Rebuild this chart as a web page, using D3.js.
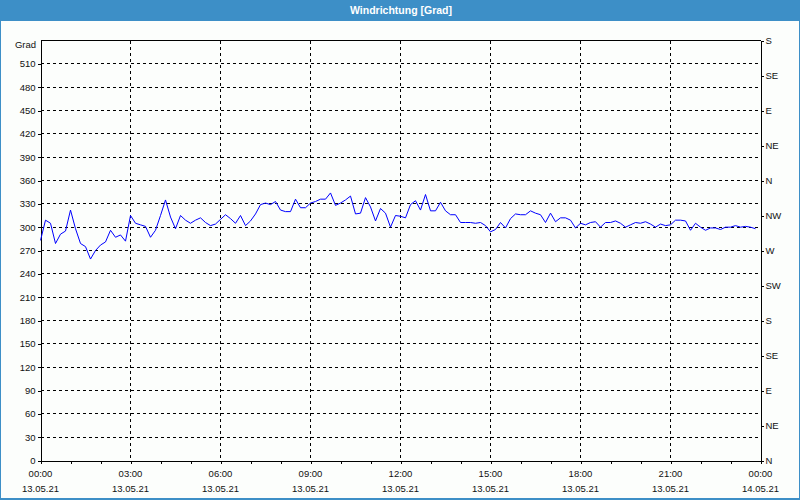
<!DOCTYPE html>
<html><head><meta charset="utf-8">
<script src="https://cdn.jsdelivr.net/npm/d3@7"></script>
<style>
html,body{margin:0;padding:0;background:#fcfefc;}
svg{display:block;}
text{font-family:"Liberation Sans",Arial,sans-serif;}
</style></head>
<body>
<svg id="c" width="800" height="500"></svg>
<script>
const title = "Windrichtung [Grad]";
const yUnit = "Grad";
const startTime = "2021-05-13T00:00:00";
const endTime = "2021-05-14T00:00:00";
const stepMinutes = 10;
const yTicks = [0,30,60,90,120,150,180,210,240,270,300,330,360,390,420,450,480,510];
const compassTicks = [0,45,90,135,180,225,270,315,360,405,450,495,540];
const compassLabels = ["N","NE","E","SE","S","SW","W","NW","N","NE","E","SE","S"];
const windDir = [
283,309,305,279,291,295,322,298,279,275,259,270,277,281,296,287,290,282,315,305,
303,301,287,296,315,335,313,298,315,309,305,309,312,306,302,304,310,316,311,305,
315,302,308,317,329,331,329,333,322,320,320,336,325,325,331,333,336,336,344,328,
331,335,340,317,318,338,326,308,324,318,300,315,314,312,329,334,322,342,321,321,
332,321,316,316,306,306,306,305,306,302,294,297,306,299,311,317,316,316,321,318,
316,306,318,307,312,312,309,299,305,303,306,307,300,306,306,308,305,300,303,306,
305,307,304,300,304,302,303,309,309,308,296,305,300,296,299,299,297,300,300,302,
300,301,300,298];

const svg = d3.select("#c");
const W = 800, H = 500;
const L = 40, R = 760, T = 40, B = 460;

// frame
svg.append("rect").attr("x",0).attr("y",0).attr("width",W).attr("height",H).attr("fill","#fcfefc");
svg.append("rect").attr("x",0.5).attr("y",0.5).attr("width",W-1).attr("height",H-1.5)
  .attr("fill","none").attr("stroke","#3d8fc7").attr("stroke-width",1).attr("shape-rendering","crispEdges");
svg.append("line").attr("x1",0).attr("x2",W).attr("y1",498.5).attr("y2",498.5).attr("stroke","#3d8fc7").attr("shape-rendering","crispEdges");
svg.append("rect").attr("x",0).attr("y",0).attr("width",W).attr("height",21).attr("fill","#3d8fc7");
svg.append("text").attr("x",401).attr("y",14).attr("text-anchor","middle")
  .attr("fill","#ffffff").attr("font-size","10.5px").attr("font-weight","bold").text(title);

const parse = d3.isoParse;
const t0 = parse(startTime), t1 = parse(endTime);
const x = d3.scaleTime().domain([t0,t1]).range([L,R]);
const y = d3.scaleLinear().domain([0,540]).range([B,T]);
const y2 = d3.scaleLinear().domain([0,540]).range([B,T]);

const g = svg.append("g").attr("transform","translate(0.5,0.5)");

// grid
const hours3 = d3.timeHour.every(3).range(t0, d3.timeMinute.offset(t1,1));
g.append("g").selectAll("line").data(yTicks.filter(v=>v>0)).join("line")
  .attr("x1",L).attr("x2",R).attr("y1",d=>Math.round(y(d))).attr("y2",d=>Math.round(y(d)))
  .attr("stroke","#000").attr("stroke-dasharray","3,3").attr("shape-rendering","crispEdges");
g.append("g").selectAll("line").data(hours3.filter(d=>+d>+t0 && +d<+t1)).join("line")
  .attr("x1",d=>Math.round(x(d))).attr("x2",d=>Math.round(x(d))).attr("y1",T).attr("y2",B)
  .attr("stroke","#000").attr("stroke-dasharray","3,3").attr("shape-rendering","crispEdges");

// top border
g.append("line").attr("x1",L).attr("x2",R).attr("y1",T).attr("y2",T).attr("stroke","#000").attr("shape-rendering","crispEdges");

// left axis
const ax = g.append("g").attr("transform",`translate(${L},0)`)
  .call(d3.axisLeft(y).tickValues(yTicks).tickSize(3).tickSizeOuter(0).tickPadding(2).tickFormat(d3.format("d")));
ax.selectAll("text").attr("font-size","9.5px").attr("fill","#111").attr("font-family","Liberation Sans, Arial, sans-serif");
ax.selectAll("line,path").attr("shape-rendering","crispEdges");
svg.append("text").attr("x",36).attr("y",48).attr("text-anchor","end").attr("font-size","9.5px").attr("fill","#111").text(yUnit);

// right axis
const ar = g.append("g").attr("transform",`translate(${R},0)`)
  .call(d3.axisRight(y2).tickValues(compassTicks).tickSize(3).tickSizeOuter(0).tickPadding(2)
    .tickFormat((d,i)=>compassLabels[i]));
ar.selectAll("text").attr("font-size","9.5px").attr("fill","#111").attr("font-family","Liberation Sans, Arial, sans-serif");
ar.selectAll("line,path").attr("shape-rendering","crispEdges");

// bottom axis
const ab = g.append("g").attr("transform",`translate(0,${B})`)
  .call(d3.axisBottom(x).ticks(d3.timeHour.every(1)).tickSize(3).tickSizeOuter(0).tickFormat(""));
ab.selectAll("line,path").attr("shape-rendering","crispEdges");
const fT = d3.timeFormat("%H:%M"), fD = d3.timeFormat("%d.%m.%y");
const lab = svg.append("g");
lab.selectAll("text.t").data(hours3).join("text").attr("class","t")
  .attr("x",d=>x(d)+0.5).attr("y",477).attr("text-anchor","middle").attr("font-size","9.5px").attr("fill","#111").text(fT);
lab.selectAll("text.d").data(hours3).join("text").attr("class","d")
  .attr("x",d=>x(d)+0.5).attr("y",492).attr("text-anchor","middle").attr("font-size","9.5px").attr("fill","#111").text(fD);

// line
const data = windDir.map((v,i)=>({t:d3.timeMinute.offset(t0,i*stepMinutes), v}));
g.append("path").datum(data)
  .attr("d", d3.line().x(d=>x(d.t)).y(d=>y(d.v)))
  .attr("fill","none").attr("stroke","#0000ff").attr("stroke-width",1);
</script>
</body></html>
